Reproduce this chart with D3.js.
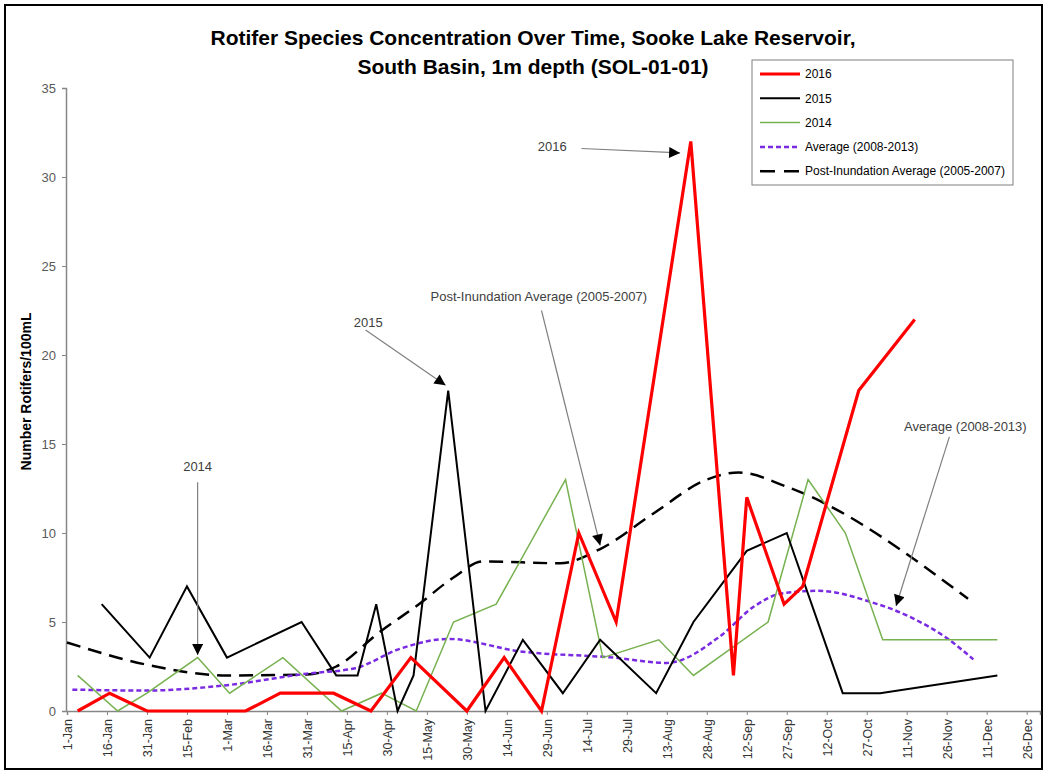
<!DOCTYPE html>
<html>
<head>
<meta charset="utf-8">
<script src="https://cdn.jsdelivr.net/npm/d3@7"></script>
<style>
  body { margin: 0; background: #fff; }
  text { font-family: "Liberation Sans Narrow", "Liberation Sans", sans-serif; }
</style>
</head>
<body>
<svg id="chart" width="1047" height="773"></svg>
<script>
// tick labels on the date axis (2016, every 15 days)
let tickLabels = ["1-Jan", "16-Jan", "31-Jan", "15-Feb", "1-Mar", "16-Mar", "31-Mar", "15-Apr", "30-Apr",
  "15-May", "30-May", "14-Jun", "29-Jun", "14-Jul", "29-Jul", "13-Aug", "28-Aug", "12-Sep", "27-Sep",
  "12-Oct", "27-Oct", "11-Nov", "26-Nov", "11-Dec", "26-Dec"]
let yTicks = [0, 5, 10, 15, 20, 25, 30, 35]

// 2016
let dates2016 = ["5-Jan", "17-Jan", "31-Jan", "8-Mar", "21-Mar", "10-Apr", "24-Apr", "9-May", "30-May", "13-Jun",
  "27-Jun", "11-Jul", "25-Jul", "22-Aug", "7-Sep", "12-Sep", "26-Sep", "3-Oct", "24-Oct", "14-Nov"]
let values2016 = [0, 1, 0, 0, 1, 1, 0, 3, 0, 3, 0, 10, 5, 32, 2, 12, 6, 7, 18, 22]

// 2015
let dates2015 = ["14-Jan", "1-Feb", "15-Feb", "1-Mar", "29-Mar", "11-Apr", "19-Apr", "26-Apr", "4-May", "10-May",
  "23-May", "6-Jun", "20-Jun", "5-Jul", "19-Jul", "9-Aug", "23-Aug", "12-Sep", "27-Sep", "18-Oct", "1-Nov", "15-Dec"]
let values2015 = [6, 3, 7, 3, 5, 2, 2, 6, 0, 2, 18, 0, 4, 1, 4, 1, 5, 9, 10, 1, 1, 2]

// 2014
let dates2014 = ["5-Jan", "20-Jan", "31-Jan", "19-Feb", "2-Mar", "22-Mar", "13-Apr", "28-Apr", "11-May", "25-May",
  "10-Jun", "6-Jul", "20-Jul", "10-Aug", "23-Aug", "20-Sep", "5-Oct", "19-Oct", "2-Nov", "15-Dec"]
let values2014 = [2, 0, 1, 3, 1, 3, 0, 1, 0, 5, 6, 13, 3, 4, 2, 5, 13, 10, 4, 4]

// Average (2008-2013)
let datesAvg = ["3-Jan", "31-Jan", "1-Mar", "31-Mar", "18-Apr", "5-May", "23-May", "19-Jun", "24-Jul", "13-Aug",
  "2-Sep", "15-Sep", "25-Sep", "9-Oct", "28-Oct", "12-Nov", "26-Nov", "6-Dec"]
let valuesAvg = [1.2, 1.15, 1.45, 2.1, 2.4, 3.5, 4.05, 3.35, 3.0, 2.7, 4.2, 5.9, 6.6, 6.75, 6.15, 5.3, 4.1, 2.9]

// Post-Inundation Average (2005-2007)
let datesPost = ["1-Jan", "31-Jan", "1-Mar", "31-Mar", "11-Apr", "27-Apr", "12-May", "25-May", "5-Jun", "4-Jul",
  "19-Jul", "8-Aug", "28-Aug", "9-Sep", "27-Sep", "4-Dec"]
let valuesPost = [3.85, 2.6, 2.0, 2.05, 2.5, 4.4, 6.0, 7.5, 8.4, 8.3, 9.1, 11.1, 13.0, 13.4, 12.6, 6.3]

// annotation labels: text at (date, value), arrow from (date, value) to (date, value)
let annLabels = ["2016", "2015", "Post-Inundation Average (2005-2007)", "2014", "Average (2008-2013)"]
let annText = [["1-Jul", 31.7], ["23-Apr", 21.85], ["26-Jun", 23.3], ["19-Feb", 13.75], ["3-Dec", 16.0]]
let annFrom = [["12-Jul", 31.6], ["22-Apr", 21.4], ["27-Jun", 22.5], ["19-Feb", 12.85], ["27-Nov", 15.4]]
let annTo = [["18-Aug", 31.35], ["22-May", 18.3], ["19-Jul", 9.3], ["19-Feb", 3.15], ["7-Nov", 5.9]]

let parse = d3.timeParse("%d-%b-%Y")
let pd = s => parse(s + "-2016")

let svg = d3.select("#chart")
let margin = {left: 67, top: 88, right: 1040, bottom: 711}

let xScale = d3.scaleTime()
  .domain([pd("1-Jan"), pd("31-Dec")])
  .range([margin.left, margin.right])
let yScale = d3.scaleLinear()
  .domain([0, 35])
  .range([margin.bottom, margin.top])

// outer frame
svg.append("rect")
  .attr("x", 5).attr("y", 5).attr("width", 1037).attr("height", 764)
  .attr("fill", "white").attr("stroke", "#000").attr("stroke-width", 2)

// title
let title = svg.append("text")
  .attr("x", 533).attr("text-anchor", "middle")
  .style("font-size", "21px").style("font-weight", "bold").attr("fill", "#000")
title.append("tspan").attr("x", 533).attr("y", 45)
  .text("Rotifer Species Concentration Over Time, Sooke Lake Reservoir,")
title.append("tspan").attr("x", 533).attr("y", 74)
  .text("South Basin, 1m depth (SOL-01-01)")

// axes
let yAxis = d3.axisLeft(yScale).tickValues(yTicks).tickSize(4).tickPadding(6)
let yAxisGroup = svg.append("g")
  .attr("transform", `translate(${margin.left - 1},0)`)
  .call(yAxis)

let xAxis = d3.axisBottom(xScale)
  .tickValues(tickLabels.map(pd))
  .tickFormat(d3.timeFormat("%-d-%b"))
  .tickSize(4)
let xAxisGroup = svg.append("g")
  .attr("transform", `translate(0,${margin.bottom})`)
  .call(xAxis)

svg.selectAll(".domain").attr("stroke", "#868686").attr("stroke-width", 1.5)
svg.selectAll(".tick line").attr("stroke", "#868686")
yAxisGroup.selectAll(".tick text")
  .attr("fill", "#595959").style("font-size", "13px")
xAxisGroup.selectAll(".tick text")
  .attr("fill", "#333").style("font-size", "12.5px")
  .attr("transform", "rotate(-90)")
  .attr("text-anchor", "end")
  .attr("x", -8).attr("y", 0).attr("dy", "0.35em")

svg.append("text")
  .attr("transform", `translate(31,${(margin.top + margin.bottom) / 2 - 8}) rotate(-90)`)
  .attr("text-anchor", "middle")
  .style("font-size", "14px").style("font-weight", "bold")
  .text("Number Rotifers/100mL")

// series
let series = [
  {name: "Post-Inundation Average (2005-2007)", dates: datesPost, values: valuesPost, color: "#000", width: 2.5, dash: "14,8", smooth: true},
  {name: "Average (2008-2013)", dates: datesAvg, values: valuesAvg, color: "#7a2be2", width: 2.5, dash: "5,3", smooth: true},
  {name: "2014", dates: dates2014, values: values2014, color: "#77b150", width: 1.5, dash: null, smooth: false},
  {name: "2015", dates: dates2015, values: values2015, color: "#000", width: 2, dash: null, smooth: false},
  {name: "2016", dates: dates2016, values: values2016, color: "#ff0000", width: 3.2, dash: null, smooth: false}
]

series.forEach(s => {
  let pts = s.dates.map((d, i) => [pd(d), s.values[i]])
  let line = d3.line()
    .x(d => xScale(d[0]))
    .y(d => yScale(d[1]))
    .curve(s.smooth ? d3.curveMonotoneX : d3.curveLinear)
  svg.append("path")
    .datum(pts)
    .attr("d", line)
    .attr("fill", "none")
    .attr("stroke", s.color)
    .attr("stroke-width", s.width)
    .attr("stroke-dasharray", s.dash)
    .attr("stroke-linejoin", "miter")
})

// annotations
svg.append("defs").append("marker")
  .attr("id", "arrow")
  .attr("viewBox", "0 0 10 10")
  .attr("refX", 10).attr("refY", 5)
  .attr("markerWidth", 13).attr("markerHeight", 11)
  .attr("markerUnits", "userSpaceOnUse")
  .attr("orient", "auto")
  .append("path").attr("d", "M0,0 L10,5 L0,10 Z").attr("fill", "#000")

annLabels.forEach((t, i) => {
  svg.append("line")
    .attr("x1", xScale(pd(annFrom[i][0]))).attr("y1", yScale(annFrom[i][1]))
    .attr("x2", xScale(pd(annTo[i][0]))).attr("y2", yScale(annTo[i][1]))
    .attr("stroke", "#7f7f7f").attr("stroke-width", 1.2)
    .attr("marker-end", "url(#arrow)")
  svg.append("text")
    .attr("x", xScale(pd(annText[i][0]))).attr("y", yScale(annText[i][1]))
    .attr("text-anchor", "middle").attr("dy", "0.35em")
    .attr("fill", "#404040").style("font-size", "13px")
    .text(t)
})

// legend
let legendItems = series.slice().reverse()
let legend = svg.append("g").attr("transform", "translate(752,60)")
legend.append("rect")
  .attr("width", 261).attr("height", 125)
  .attr("fill", "white").attr("stroke", "#7f7f7f")
legendItems.forEach((s, i) => {
  let yy = 14 + i * 24.3
  legend.append("line")
    .attr("x1", 8).attr("x2", 48).attr("y1", yy).attr("y2", yy)
    .attr("stroke", s.color)
    .attr("stroke-width", s.width)
    .attr("stroke-dasharray", s.dash === "14,8" ? "15,9" : s.dash)
  legend.append("text")
    .attr("x", 53).attr("y", yy).attr("dy", "0.35em")
    .style("font-size", "12px").attr("fill", "#000")
    .text(s.name)
})
</script>
</body>
</html>
